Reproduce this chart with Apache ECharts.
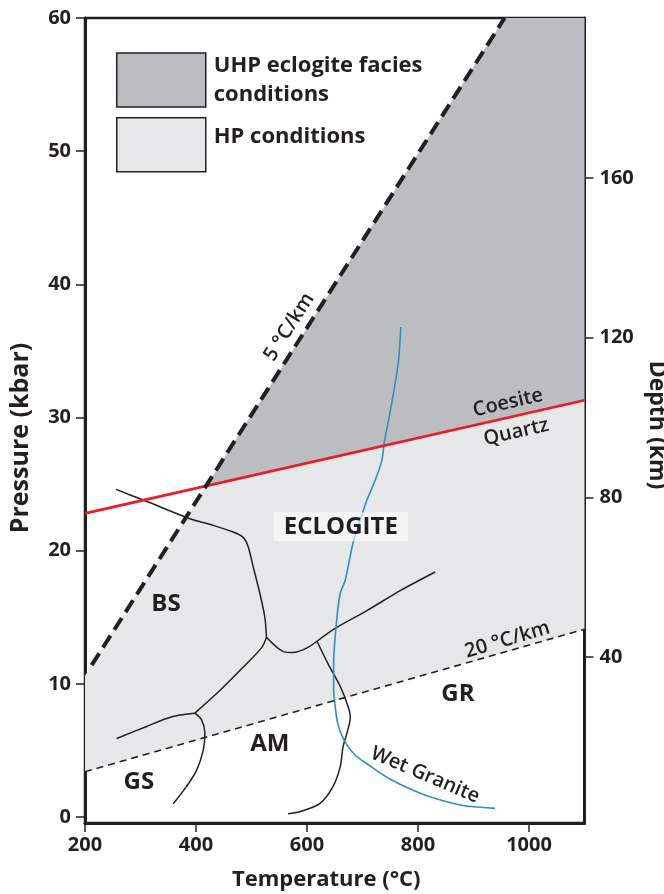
<!DOCTYPE html>
<html>
<head>
<meta charset="utf-8">
<script src="https://cdn.jsdelivr.net/npm/echarts@6/dist/echarts.min.js"></script>
<style>
  html, body { margin: 0; padding: 0; background: #ffffff; }
  #chart { width: 664px; height: 894px; }
</style>
</head>
<body>
<div id="chart"></div>
<script>
// Axis ranges and tick values (T in °C, P in kbar, depth in km)
const temperatureRange = [200, 1100];
const pressureRange = [-0.45, 60];
const depthRange = [-1.5, 200];
const temperatureTickStep = 200;
const pressureTicks = [0, 10, 20, 30, 40, 50, 60];
const depthTicks = [40, 80, 120, 160];

// Fields [T, P]
const uhpField = [[419, 24.9], [956, 60], [1100, 60], [1100, 31.3]];
const hpField = [[200, 3.4], [200, 10.6], [419, 24.9], [1100, 31.3], [1100, 14.1]];

// Reference lines [T, P]
const geotherm5 = [[212, 11.4], [956, 60]];
const geotherm20 = [[200, 3.4], [1100, 14.1]];
const coesiteQuartz = [[200, 22.8], [1100, 31.3]];

// Facies boundaries [T, P]
const bsEclogite = [[256, 24.6], [305, 23.8], [389, 22.4], [431, 21.9], [467, 21.4], [485, 21.0],
  [494, 20.3], [503, 18.8], [515, 16.8], [524, 15.0], [527, 13.5]];
const bsAmphibolite = [[527, 13.5], [518, 12.7], [479, 11.0], [443, 9.5], [398, 7.8]];
const gsBlueschist = [[398, 7.8], [371, 7.66], [347, 7.4], [311, 6.8], [257, 5.9]];
const gsAmphibolite = [[398, 7.8], [410, 7.3], [416, 6.3], [413, 5.0], [401, 3.5], [383, 2.3], [359, 1.0]];
const eclogiteAmphibolite = [[527, 13.5], [559, 12.4], [575, 12.35], [600, 12.7], [618, 13.2]];
const eclogiteGranulite = [[618, 13.2], [652, 14.2], [708, 15.5], [768, 17.0], [831, 18.4]];
const amphiboliteGranulite = [[618, 13.2], [638, 11.5], [660, 9.8], [674, 8.3], [678, 7.5], [672, 6.3],
  [665, 5.3], [660, 3.8], [647, 2.3], [623, 1.0], [587, 0.4], [566, 0.25]];
const wetGranite = [[769, 36.8], [765, 34.3], [757, 32.1], [747, 29.8], [739, 28.1], [735, 26.8],
  [723, 25.3], [708, 23.8], [696, 22.3], [683, 20.6], [669, 17.8], [660, 16.8], [654, 15.0],
  [648, 11.5], [648, 9.5], [650, 8.6], [654, 7.3], [660, 6.4], [672, 5.4], [688, 4.6], [708, 4.0],
  [732, 3.3], [756, 2.7], [786, 2.1], [816, 1.6], [876, 0.9], [939, 0.65]];

// Text labels [T, P]
const faciesNames = ['BS', 'GS', 'AM', 'GR', 'ECLOGITE'];
const faciesPositions = [[346, 16.0], [297, 2.6], [533, 5.5], [872, 9.2], [661, 21.8]];
const lineNames = ['5 °C/km', 'Coesite', 'Quartz', '20 °C/km', 'Wet Granite'];
const linePositions = [[568, 36.8], [962, 31.1], [977, 28.9], [961, 13.3], [813, 3.15]];
const lineAngles = [57.5, 13, 13, 16.5, -23];

const INK = '#231f20';
const FONT = '"Open Sans", "Noto Sans", sans-serif';
const UHP_COLOR = '#bcbdc0';
const HP_COLOR = '#e6e7e8';

function fieldSeries(name, pts, color) {
  return {
    type: 'custom',
    name: name,
    coordinateSystem: 'cartesian2d',
    z: 1,
    silent: true,
    itemStyle: { color: color },
    data: pts,
    renderItem: function (params, api) {
      if (params.dataIndex !== 0) return null;
      return {
        type: 'polygon',
        shape: { points: pts.map(function (p) { return api.coord(p); }) },
        style: { fill: color, stroke: null }
      };
    }
  };
}

function curve(pts, color, width, opts) {
  return Object.assign({
    type: 'line',
    data: pts,
    showSymbol: false,
    symbol: 'none',
    silent: true,
    z: 3,
    lineStyle: { color: color, width: width }
  }, opts || {});
}

// Text placed at [T, P] through the cartesian scales
function textSeries(names, positions, angles, font, extra) {
  return {
    type: 'custom',
    coordinateSystem: 'cartesian2d',
    z: 6,
    silent: true,
    data: positions,
    renderItem: function (params, api) {
      const i = params.dataIndex;
      const c = api.coord([api.value(0), api.value(1)]);
      const style = Object.assign({
        text: names[i],
        font: font,
        fill: INK,
        align: 'center',
        verticalAlign: 'middle'
      }, (extra && extra[names[i]]) || {});
      return {
        type: 'text',
        x: c[0], y: c[1],
        rotation: (angles ? angles[i] : 0) * Math.PI / 180,
        style: style
      };
    }
  };
}

const tickText = { color: INK, fontFamily: FONT, fontWeight: 'bold', fontSize: 20 };
const nameText = { color: INK, fontFamily: FONT, fontWeight: 'bold', fontSize: 23 };
const legendFont = { color: INK, fontFamily: FONT, fontWeight: 'bold', fontSize: 22, lineHeight: 29 };

const chart = echarts.init(document.getElementById('chart'), null, { renderer: 'canvas' });

chart.setOption({
  animation: false,
  backgroundColor: '#ffffff',
  grid: {
    left: 85, right: 79.5, top: 18, bottom: 71,
    show: true, borderColor: INK, borderWidth: 2.5, backgroundColor: 'transparent',
    outerBoundsMode: 'none', containLabel: false
  },
  legend: {
    left: 116, top: 51,
    padding: 0,
    orient: 'vertical',
    icon: 'rect',
    itemWidth: 89, itemHeight: 54, itemGap: 8,
    selectedMode: false,
    itemStyle: { borderColor: INK, borderWidth: 1.5 },
    formatter: function (name) {
      if (name === 'HP conditions') return '{hp|' + name + '}';
      return name.split('\n').map(function (s) { return '{t|' + s + '}'; }).join('\n');
    },
    textStyle: Object.assign({
      rich: {
        t: Object.assign({ padding: [0, 0, 0, 3] }, legendFont),
        hp: Object.assign({ padding: [0, 0, 17, 3] }, legendFont)
      }
    }, legendFont),
    data: ['UHP eclogite facies\nconditions', 'HP conditions']
  },
  xAxis: {
    type: 'value',
    min: temperatureRange[0], max: temperatureRange[1], interval: temperatureTickStep,
    axisLine: { show: true, onZero: false, lineStyle: { color: INK, width: 3 } },
    axisTick: { show: true, length: 9, lineStyle: { color: INK, width: 1.5 } },
    axisLabel: Object.assign({ margin: 12, showMaxLabel: false, formatter: function (v) { return String(v); } }, tickText),
    splitLine: { show: false },
    name: 'Temperature (°C)', nameLocation: 'middle', nameGap: 46,
    nameTextStyle: Object.assign({ padding: [0, 17, 0, 0] }, nameText, { fontSize: 22 })
  },
  yAxis: [
    {
      type: 'value', position: 'left',
      min: pressureRange[0], max: pressureRange[1],
      axisLine: { show: true, onZero: false, lineStyle: { color: INK, width: 3 } },
      axisTick: { show: true, length: 9, customValues: pressureTicks, lineStyle: { color: INK, width: 1.5 } },
      axisLabel: Object.assign({ margin: 14, customValues: pressureTicks }, tickText),
      splitLine: { show: false },
      name: 'Pressure (kbar)', nameLocation: 'middle', nameGap: 52,
      nameTextStyle: Object.assign({ padding: [0, 35, 0, 0] }, nameText, { fontSize: 25 })
    },
    {
      type: 'value', position: 'right',
      min: depthRange[0], max: depthRange[1],
      axisLine: { show: true, onZero: false, lineStyle: { color: INK, width: 3 } },
      axisTick: { show: true, length: 9, customValues: depthTicks, lineStyle: { color: INK, width: 1.5 } },
      axisLabel: Object.assign({ margin: 15, customValues: depthTicks }, tickText),
      splitLine: { show: false },
      name: 'Depth (km)', nameLocation: 'middle', nameGap: 56, nameRotate: -90,
      nameTextStyle: Object.assign({ padding: [0, 0, 0, 9] }, nameText)
    }
  ],
  series: [
    fieldSeries('HP conditions', hpField, HP_COLOR),
    fieldSeries('UHP eclogite facies\nconditions', uhpField, UHP_COLOR),

    curve(bsEclogite, INK, 1.5, { smooth: 0.3 }),
    curve(bsAmphibolite, INK, 1.5, { smooth: 0.3 }),
    curve(gsBlueschist, INK, 1.5, { smooth: 0.3 }),
    curve(gsAmphibolite, INK, 1.5, { smooth: 0.3 }),
    curve(eclogiteAmphibolite, INK, 1.5, { smooth: 0.3 }),
    curve(eclogiteGranulite, INK, 1.5, { smooth: 0.3 }),
    curve(amphiboliteGranulite, INK, 1.5, { smooth: 0.3 }),
    curve(wetGranite, '#2b8fc8', 1.6, { smooth: 0.3 }),

    curve(geotherm20, INK, 1.6, { lineStyle: { color: INK, width: 1.6, type: [7, 5] } }),
    curve(coesiteQuartz, '#ed1c24', 2.6, { z: 4 }),
    curve(geotherm5, INK, 4, { z: 5, lineStyle: { color: INK, width: 4, type: [14, 7] } }),

    textSeries(faciesNames, faciesPositions, null, 'bold 24px ' + FONT, {
      'ECLOGITE': { backgroundColor: 'rgba(255,255,255,0.6)', padding: [2, 10, 1, 10], lineHeight: 26 }
    }),
    textSeries(lineNames, linePositions, lineAngles, '600 20px ' + FONT)
  ]
});
</script>
</body>
</html>
